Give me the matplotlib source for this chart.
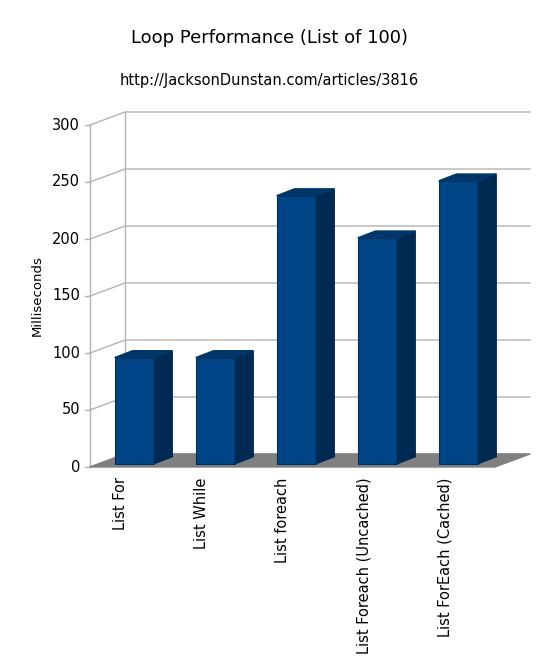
import numpy as np
import matplotlib.pyplot as plt
from matplotlib.patches import Polygon

labels = ["List For", "List While", "List foreach", "List Foreach (Uncached)", "List ForEach (Cached)"]
values = [93, 93, 235, 198, 248]
yticks = [0, 50, 100, 150, 200, 250, 300]

front = "#004586"
side = "#002a52"
top = "#003768"

fig = plt.figure(figsize=(5.5, 6.6), dpi=100)
ax = fig.add_axes([90/550, (660-467)/660, 405/550, 342/660])
ax.set_xlim(-0.5, 4.5)
ax.set_ylim(0, 300)
ax.axis("off")

# depth of the chart box and of the bars (data units)
ddx, ddy = 0.432, 11.4
bdx, bdy = 0.22, 6.0
bw = 0.49
shift = 0.05  # bars sit a little behind the front plane

# back wall gridlines
for t in yticks:
    ax.plot([-0.5, -0.5 + ddx, 4.5 + ddx], [t, t + ddy, t + ddy], color="#b3b3b3", lw=1, clip_on=False)
    ax.plot([-0.56, -0.5], [t, t], color="#b3b3b3", lw=1, clip_on=False)
    ax.text(-0.62, t, str(t), ha="right", va="center", fontsize=10.5)
ax.plot([-0.5, -0.5], [0, 300], color="#b3b3b3", lw=1, clip_on=False)
ax.plot([-0.5 + ddx, -0.5 + ddx], [ddy, 300 + ddy], color="#b3b3b3", lw=1, clip_on=False)

# floor
ax.add_patch(Polygon([(-0.5, 0), (4.5, 0), (4.5 + ddx, ddy), (-0.5 + ddx, ddy)],
                     closed=True, color="#808080", clip_on=False, zorder=2))

for i, v in enumerate(values):
    x0 = i - bw / 2 + shift
    y0 = 3
    ax.bar(x0, v, width=bw, bottom=y0, align="edge", color=front, edgecolor="#003060",
           lw=0.8, zorder=3, clip_on=False)
    ax.add_patch(Polygon([(x0 + bw, y0), (x0 + bw + bdx, y0 + bdy), (x0 + bw + bdx, y0 + v + bdy), (x0 + bw, y0 + v)],
                         closed=True, color=side, zorder=3, clip_on=False))
    ax.add_patch(Polygon([(x0, y0 + v), (x0 + bw, y0 + v), (x0 + bw + bdx, y0 + v + bdy), (x0 + bdx, y0 + v + bdy)],
                         closed=True, color=top, zorder=3, clip_on=False))
    ax.text(i - 0.12, -9, labels[i], rotation=90, ha="center", va="top", fontsize=10.5)

ax.text(-1.15, 150, "Milliseconds", rotation=90, ha="center", va="center", fontsize=9.5)
fig.text(0.49, 1 - 38/660, "Loop Performance (List of 100)", ha="center", va="center", fontsize=13)
fig.text(0.49, 1 - 80/660, "http://JacksonDunstan.com/articles/3816", ha="center", va="center", fontsize=10.5)

fig.savefig("out.png")
